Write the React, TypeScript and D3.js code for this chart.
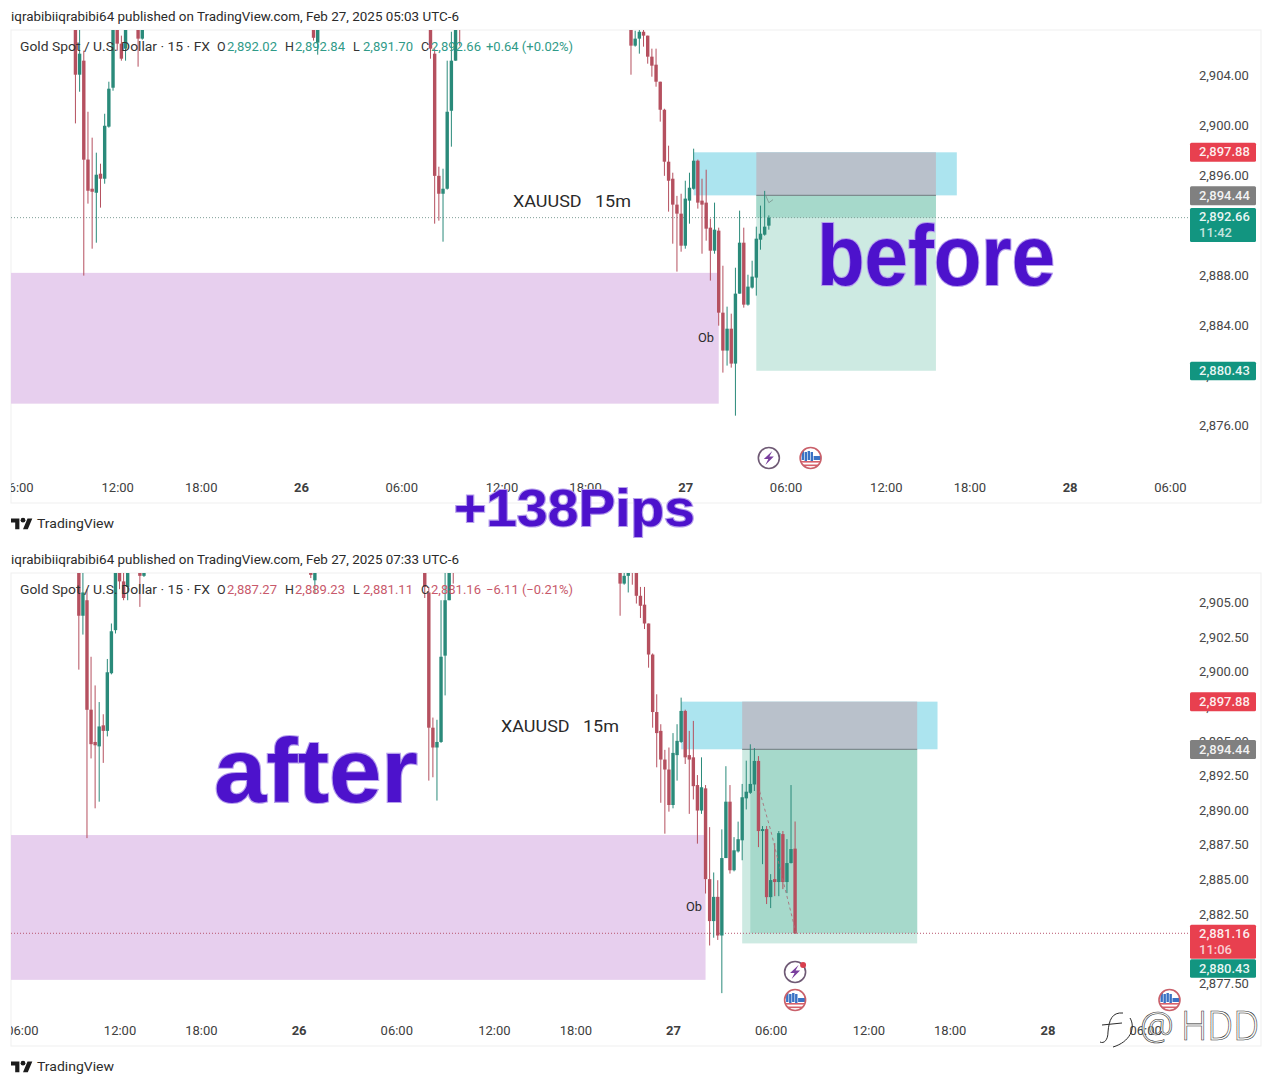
import { useEffect, useRef } from "react";
import * as d3 from "d3";

// [bar, open, high, low, close], bar 0 = Feb 27 00:00, one bar = 15 min
type Candle = [number, number, number, number, number];

const firstDip: Candle[] = [
  [-146, 2911, 2913, 2900.19, 2904.08],
  [-145, 2904.08, 2908.5, 2902.72, 2905.76],
  [-144, 2905.2, 2906.0, 2888.03, 2897.29],
  [-143, 2897.3, 2901.12, 2893.78, 2894.81],
  [-142, 2894.97, 2899.05, 2890.18, 2894.73],
  [-141, 2894.65, 2897.85, 2890.66, 2896.09],
  [-140, 2896.17, 2896.97, 2893.46, 2895.77],
  [-139, 2895.77, 2900.96, 2895.37, 2900.0],
  [-138, 2899.93, 2903.52, 2899.85, 2902.96],
  [-137, 2903.04, 2909, 2902.8, 2908.39],
  [-136, 2909, 2910, 2906.0, 2906.56],
  [-135, 2906.56, 2907.2, 2905.2, 2905.36],
  [-134, 2906.16, 2909.5, 2905.2, 2908.39],
  [-131, 2908.2, 2909, 2904.72, 2906.96],
  [-130, 2906.96, 2908.4, 2906.88, 2908.4],
  [-89, 2909, 2910, 2906.8, 2907.03],
  [-88, 2906.64, 2908.5, 2905.68, 2908.5],
];

const secondDip: Candle[] = [
  [-61, 2910, 2911, 2905.36, 2906.16],
  [-60, 2905.76, 2906.16, 2892.18, 2896.0],
  [-59, 2896.0, 2896.73, 2892.42, 2894.57],
  [-58, 2894.57, 2896.57, 2890.74, 2894.97],
  [-57, 2894.97, 2905.2, 2894.9, 2901.12],
  [-56, 2901.2, 2907.51, 2898.33, 2905.2],
  [-55, 2905.2, 2909, 2905.2, 2908.5],
  [-54, 2909, 2910, 2906.4, 2908],
];

const selloff: Candle[] = [
  [-13, 2908, 2909, 2904.08, 2906.4],
  [-12, 2906.4, 2907.59, 2906.32, 2906.96],
  [-11, 2906.96, 2908.5, 2905.76, 2907.51],
  [-10, 2907.51, 2909, 2906.32, 2907.2],
  [-9, 2907.2, 2907.2, 2904.96, 2905.52],
  [-8, 2905.52, 2906.16, 2903.92, 2904.8],
  [-7, 2904.88, 2906.16, 2903.12, 2903.52],
  [-6, 2903.52, 2903.52, 2900.33, 2901.28],
  [-5, 2901.28, 2901.36, 2896, 2897.13],
  [-4, 2897.13, 2898.41, 2893.14, 2895.61],
  [-3, 2895.77, 2896.25, 2890.58, 2893.7],
  [-2, 2893.7, 2894.4, 2888.35, 2892.98],
  [-1, 2892.98, 2894.57, 2889.94, 2890.42],
  [0, 2890.42, 2895.61, 2890.18, 2894.18],
  [1, 2894.02, 2896.25, 2892.18, 2895.05],
  [2, 2894.97, 2898.17, 2894.9, 2897.21],
  [3, 2897.21, 2897.3, 2893.38, 2893.86],
  [4, 2894.02, 2895.77, 2889.78, 2893.7],
  [5, 2893.86, 2896.49, 2890.82, 2891.78],
  [6, 2891.86, 2892.58, 2887.63, 2890.02],
  [7, 2890.02, 2893.86, 2889.78, 2891.7],
  [8, 2891.62, 2891.86, 2884.03, 2885.07],
  [9, 2885.07, 2888.82, 2880.28, 2882.04],
  [10, 2882.04, 2885.55, 2880.84, 2883.79],
  [11, 2883.79, 2884.99, 2880.68, 2881],
  [12, 2881, 2888.66, 2876.84, 2886.59],
  [13, 2886.59, 2893.22, 2886.59, 2890.66],
  [14, 2890.66, 2891.86, 2885.47, 2885.71],
  [15, 2885.71, 2888.1, 2885.63, 2887.15],
  [16, 2887.07, 2889.22, 2886.99, 2887.95],
  [17, 2887.87, 2891.94, 2886.43, 2890.98],
  [18, 2890.9, 2893.62, 2890.1, 2891.38],
  [19, 2891.3, 2894.8, 2891.22, 2891.94],
];

// the bar still forming when the first snapshot was taken
const formingBefore: Candle[] = [[20, 2892.02, 2892.84, 2891.7, 2892.66]];

const barsAfter: Candle[] = [
  [20, 2891.9, 2894.53, 2891.43, 2893.6],
  [21, 2893.6, 2893.95, 2887.38, 2888.54],
  [22, 2888.54, 2888.9, 2886.15, 2888.68],
  [23, 2888.68, 2888.9, 2883.27, 2883.77],
  [24, 2883.77, 2885.43, 2882.98, 2885],
  [25, 2885.07, 2887.67, 2883.84, 2884.86],
  [26, 2884.86, 2888.54, 2883.84, 2888.39],
  [27, 2888.32, 2888.54, 2884.35, 2884.86],
  [28, 2884.86, 2887.96, 2884.06, 2886.23],
  [29, 2886.23, 2891.86, 2886.2, 2887.24],
  [30, 2887.27, 2889.23, 2881.11, 2881.16],
];

const timeTickBars = [-160, -136, -116, -92, -68, -44, -24, 0, 24, 48, 68, 92, 116];
const timeTickLabels = ["06:00", "12:00", "18:00", "26", "06:00", "12:00", "18:00", "27", "06:00", "12:00", "18:00", "28", "06:00"];
const dayLabels = ["26", "27", "28"];

const priceTicksBefore = [2904, 2900, 2896, 2892, 2888, 2884, 2880, 2876];
const priceTicksAfter = [2905, 2902.5, 2900, 2897.5, 2895, 2892.5, 2890, 2887.5, 2885, 2882.5, 2880, 2877.5];

const stopPrice = 2897.88;
const entryPrice = 2894.44;
const targetPrice = 2880.43;
const obZone = { top: 2888.25, bottom: 2877.8, endBar: 8 };
const supplyZone = { startBar: 2, endBar: 65 };
const tradeBars = { start: 17, end: 60 };

const pathBefore: [number, number][] = [[19.3, 2894.4], [20, 2893.85], [21, 2894.1]];
const pathAfter: [number, number][] = [[21.3, 2891.4], [24, 2888.6], [30.3, 2881.1]];

const RED = "#b5505f";
const GREEN = "#2a8a7a";
const TAG_RED = "#e8404f";
const TAG_GREEN = "#129580";
const TAG_GREY = "#808080";
const PURPLE = "#4d12cc";
const FONT = "Roboto, sans-serif";

type PanelConfig = {
  top: number;
  bottom: number;
  xRange: [number, number];
  priceDomain: [number, number];
  priceRange: [number, number];
  priceTicks: number[];
  candles: Candle[];
  clipId: string;
  header: string;
  ohlc: string[];
  change: string;
  legendColor: string;
  lastColor: string;
  lastPrice: number;
  countdown: string;
  pnlStartBar: number;
  path: [number, number][];
  pathColor: string;
  pathDash: string;
  dotColor: string;
  lastTagOffset: number;
  tagTargetY: number;
};

const panelBefore: PanelConfig = {
  top: 30,
  bottom: 503,
  xRange: [685.3, 1069.6],
  priceDomain: [2904, 2876],
  priceRange: [75.7, 426.2],
  priceTicks: priceTicksBefore,
  candles: [...firstDip, ...secondDip, ...selloff, ...formingBefore],
  clipId: "plot-before",
  header: "iqrabibiiqrabibi64 published on TradingView.com, Feb 27, 2025 05:03 UTC-6",
  ohlc: ["2,892.02", "2,892.84", "2,891.70", "2,892.66"],
  change: "+0.64 (+0.02%)",
  legendColor: "#2f9a88",
  lastColor: TAG_GREEN,
  lastPrice: 2892.66,
  countdown: "11:42",
  pnlStartBar: 17,
  path: pathBefore,
  pathColor: "#7f9a94",
  pathDash: "none",
  dotColor: "#7f9f98",
  lastTagOffset: 7.3,
  tagTargetY: 371,
};

const panelAfter: PanelConfig = {
  top: 573,
  bottom: 1046,
  xRange: [673, 1047.4],
  priceDomain: [2905, 2877.5],
  priceRange: [603, 984],
  priceTicks: priceTicksAfter,
  candles: [...firstDip, ...secondDip, ...selloff, ...barsAfter],
  clipId: "plot-after",
  header: "iqrabibiiqrabibi64 published on TradingView.com, Feb 27, 2025 07:33 UTC-6",
  ohlc: ["2,887.27", "2,889.23", "2,881.11", "2,881.16"],
  change: "\u22126.11 (\u22120.21%)",
  legendColor: "#c8596b",
  lastColor: TAG_RED,
  lastPrice: 2881.16,
  countdown: "11:06",
  pnlStartBar: 19,
  path: pathAfter,
  pathColor: "#a8707a",
  pathDash: "3 3",
  dotColor: "#b8566e",
  lastTagOffset: 8.5,
  tagTargetY: 968.5,
};

type Sel = d3.Selection<any, unknown, null, undefined>;

function drawBoltIcon(g: Sel, cx: number, cy: number, withDot: boolean) {
  g.append("circle").attr("cx", cx).attr("cy", cy).attr("r", 10.5)
    .attr("fill", "#fff").attr("stroke", "#6f5a75").attr("stroke-width", 1.6);
  g.append("path")
    .attr("d", `M${cx + 3.5},${cy - 7} L${cx - 5},${cy + 1} L${cx - 0.5},${cy + 1} L${cx - 3.5},${cy + 7} L${cx + 5},${cy - 1.5} L${cx + 0.5},${cy - 1.5} Z`)
    .attr("fill", "#7a3f9e");
  if (withDot) g.append("circle").attr("cx", cx + 8).attr("cy", cy - 7).attr("r", 3).attr("fill", "#d8404f");
}

function drawFlagIcon(g: Sel, cx: number, cy: number, id: string) {
  g.append("clipPath").attr("id", id).append("circle").attr("cx", cx).attr("cy", cy).attr("r", 10.5);
  const inner = g.append("g").attr("clip-path", `url(#${id})`);
  inner.append("rect").attr("x", cx - 11).attr("y", cy - 11).attr("width", 22).attr("height", 22).attr("fill", "#fff");
  [-9, -6, -3, 0].forEach((dx, i) => {
    inner.append("rect").attr("x", cx + dx).attr("y", cy - 7 + i % 2).attr("width", 2.4).attr("height", 9).attr("fill", "#3a72c4");
  });
  inner.append("rect").attr("x", cx + 3).attr("y", cy - 2).attr("width", 8).attr("height", 4).attr("fill", "#3a72c4");
  inner.append("rect").attr("x", cx - 10).attr("y", cy + 3).attr("width", 20).attr("height", 1.6).attr("fill", "#d8606a");
  inner.append("rect").attr("x", cx - 8).attr("y", cy + 6.5).attr("width", 16).attr("height", 1.6).attr("fill", "#d8606a");
  g.append("circle").attr("cx", cx).attr("cy", cy).attr("r", 10.5)
    .attr("fill", "none").attr("stroke", "#c9606a").attr("stroke-width", 1.6);
}

function drawPanel(svg: Sel, cfg: PanelConfig) {
  const left = 11;
  const plotRight = 1190;
  const right = 1261;

  const x = d3.scaleLinear().domain([0, 92]).range(cfg.xRange);
  const y = d3.scaleLinear().domain(cfg.priceDomain).range(cfg.priceRange);

  const root = svg.append("g");

  root.append("text")
    .attr("x", 11).attr("y", cfg.top - 9.5)
    .attr("font-family", FONT).attr("font-size", 12).attr("fill", "#2a2a2a")
    .attr("textLength", 448).attr("lengthAdjust", "spacingAndGlyphs")
    .text(cfg.header);

  // panel frame
  root.append("rect")
    .attr("x", left).attr("y", cfg.top)
    .attr("width", right - left).attr("height", cfg.bottom - cfg.top)
    .attr("fill", "#fff").attr("stroke", "#efefef");

  root.append("clipPath").attr("id", cfg.clipId)
    .append("rect").attr("x", left).attr("y", cfg.top)
    .attr("width", plotRight - left).attr("height", cfg.bottom - cfg.top);

  const plot = root.append("g").attr("clip-path", `url(#${cfg.clipId})`);

  // order block
  plot.append("rect")
    .attr("x", left).attr("y", y(obZone.top))
    .attr("width", x(obZone.endBar) - left).attr("height", y(obZone.bottom) - y(obZone.top))
    .attr("fill", "#e7cfee");

  // cyan zone
  plot.append("rect")
    .attr("x", x(supplyZone.startBar)).attr("y", y(stopPrice))
    .attr("width", x(supplyZone.endBar) - x(supplyZone.startBar)).attr("height", y(entryPrice) - y(stopPrice))
    .attr("fill", "#ace4ef");

  // position tool
  const tx0 = x(tradeBars.start);
  const tw = x(tradeBars.end) - tx0;
  plot.append("rect").attr("x", tx0).attr("y", y(stopPrice)).attr("width", tw)
    .attr("height", y(entryPrice) - y(stopPrice)).attr("fill", "#b9c1cb");
  plot.append("rect").attr("x", tx0).attr("y", y(entryPrice)).attr("width", tw)
    .attr("height", y(targetPrice) - y(entryPrice)).attr("fill", "#cdeae2");
  plot.append("rect").attr("x", x(cfg.pnlStartBar)).attr("y", y(entryPrice))
    .attr("width", x(tradeBars.end) - x(cfg.pnlStartBar))
    .attr("height", y(cfg.lastPrice) - y(entryPrice)).attr("fill", "#a6d9cb");
  plot.append("line").attr("x1", tx0).attr("x2", tx0 + tw)
    .attr("y1", y(entryPrice)).attr("y2", y(entryPrice))
    .attr("stroke", "#7d8c8e").attr("stroke-width", 1.2);

  // last price line
  plot.append("line").attr("x1", left).attr("x2", plotRight)
    .attr("y1", y(cfg.lastPrice)).attr("y2", y(cfg.lastPrice))
    .attr("stroke", cfg.dotColor).attr("stroke-dasharray", "1 2");

  // candles
  const candleG = plot.append("g");
  const bodyW = 3.4;
  candleG.selectAll("line").data(cfg.candles).join("line")
    .attr("x1", (d) => x(d[0])).attr("x2", (d) => x(d[0]))
    .attr("y1", (d) => y(d[2])).attr("y2", (d) => y(d[3]))
    .attr("stroke", (d) => (d[4] >= d[1] ? GREEN : RED));
  candleG.selectAll("rect").data(cfg.candles).join("rect")
    .attr("x", (d) => x(d[0]) - bodyW / 2)
    .attr("y", (d) => y(Math.max(d[1], d[4])))
    .attr("width", bodyW)
    .attr("height", (d) => Math.max(1.5, Math.abs(y(d[1]) - y(d[4]))))
    .attr("fill", (d) => (d[4] >= d[1] ? GREEN : RED));

  // projected path
  const pathLine = d3.line<[number, number]>().x((d) => x(d[0])).y((d) => y(d[1]));
  plot.append("path").attr("d", pathLine(cfg.path))
    .attr("fill", "none").attr("stroke", cfg.pathColor).attr("stroke-width", 0.9)
    .attr("stroke-dasharray", cfg.pathDash);

  // price axis
  const priceAxis = d3.axisRight(y)
    .tickValues(cfg.priceTicks)
    .tickSize(0)
    .tickPadding(9)
    .tickFormat((d) => d3.format(",.2f")(d as number));
  const yAxisG = root.append("g").attr("transform", `translate(${plotRight},0)`).call(priceAxis);
  yAxisG.select(".domain").remove();
  yAxisG.selectAll("text").attr("dy", "0.27em")
    .attr("font-family", FONT).attr("font-size", 13).attr("fill", "#474747");

  // time axis
  root.append("clipPath").attr("id", `${cfg.clipId}-time`)
    .append("rect").attr("x", left).attr("y", cfg.bottom - 40).attr("width", right - left).attr("height", 40);
  const timeAxis = d3.axisBottom(x)
    .tickValues(timeTickBars)
    .tickSize(0)
    .tickPadding(0)
    .tickFormat((_, i) => timeTickLabels[i]);
  const xAxisG = root.append("g")
    .attr("clip-path", `url(#${cfg.clipId}-time)`)
    .append("g")
    .attr("transform", `translate(0,${cfg.bottom - 20})`)
    .call(timeAxis);
  xAxisG.select(".domain").remove();
  xAxisG.selectAll<SVGTextElement, number>("text")
    .attr("font-family", FONT).attr("font-size", 13).attr("fill", "#404040")
    .attr("font-weight", (_, i) => (dayLabels.includes(timeTickLabels[i]) ? 700 : 400));

  // legend row
  const legendY = cfg.top + 21;
  const legend = root.append("g").attr("font-family", FONT).attr("font-size", 12.5);
  const label = (tx: number, s: string, fill: string, width?: number) => {
    const t = legend.append("text").attr("x", tx).attr("y", legendY).attr("fill", fill).text(s);
    if (width) t.attr("textLength", width).attr("lengthAdjust", "spacingAndGlyphs");
  };
  label(20, "Gold Spot / U.S. Dollar \u00b7 15 \u00b7 FX", "#333", 190);
  ["O", "H", "L", "C"].forEach((k, i) => {
    const baseX = 217 + i * 68;
    label(baseX, k, "#333");
    label(baseX + 10, cfg.ohlc[i], cfg.legendColor, 50);
  });
  label(486, cfg.change, cfg.legendColor, 87);

  // price tags
  const tag = (cy: number, h: number, fill: string, lines: string[]) => {
    const yTop = cy - h / 2;
    root.append("rect").attr("x", plotRight).attr("y", yTop).attr("width", 66).attr("height", h)
      .attr("rx", 1.5).attr("fill", fill);
    lines.forEach((s, i) => {
      root.append("text")
        .attr("x", plotRight + 9).attr("y", yTop + 13.5 + i * 16)
        .attr("font-family", FONT).attr("font-size", 13).attr("font-weight", 500)
        .attr("fill", "#fff").attr("fill-opacity", i === 0 ? 0.92 : 0.75).text(s);
    });
  };
  const money = d3.format(",.2f");
  tag(y(stopPrice), 19, TAG_RED, [money(stopPrice)]);
  tag(y(entryPrice) + 0.3, 19, TAG_GREY, [money(entryPrice)]);
  tag(y(cfg.lastPrice) + cfg.lastTagOffset, 34, cfg.lastColor, [money(cfg.lastPrice), cfg.countdown]);
  tag(cfg.tagTargetY, 18.5, TAG_GREEN, [money(targetPrice)]);

  // TradingView mark
  const brand = root.append("g").attr("transform", `translate(11,${cfg.bottom + 13})`);
  brand.append("path")
    .attr("transform", "scale(0.6)")
    .attr("d", "M14 22H7V11H0V4h14v18zM28 22h-8l7.5-18h8L28 22z")
    .attr("fill", "#1c1c1c");
  brand.append("circle").attr("cx", 12).attr("cy", 4.2).attr("r", 2.4).attr("fill", "#1c1c1c");
  root.append("text").attr("x", 37).attr("y", cfg.bottom + 25)
    .attr("font-family", FONT).attr("font-size", 13.5).attr("fill", "#2b2b2b")
    .attr("textLength", 77).attr("lengthAdjust", "spacingAndGlyphs")
    .text("TradingView");

  return { x, y, root };
}

export default function App() {
  const svgRef = useRef<SVGSVGElement | null>(null);

  useEffect(() => {
    if (!svgRef.current) return;
    const svg = d3.select(svgRef.current) as unknown as Sel;
    svg.selectAll("*").remove();

    const before = drawPanel(svg, panelBefore);
    const after = drawPanel(svg, panelAfter);

    // annotations
    const note = (tx: number, ty: number, s: string, size: number, width: number) =>
      svg.append("text").attr("x", tx).attr("y", ty)
        .attr("font-family", FONT).attr("font-size", size).attr("fill", "#2a2a2a")
        .attr("xml:space", "preserve")
        .attr("textLength", width).attr("lengthAdjust", "spacingAndGlyphs")
        .text(s);
    note(513, 207, "XAUUSD   15m", 17, 118);
    note(501, 732, "XAUUSD   15m", 17, 118);
    note(698, 342, "Ob", 12, 16);
    note(686, 911, "Ob", 12, 16);

    // event markers
    const icons = svg.append("g");
    drawBoltIcon(icons, before.x(20), 458, false);
    drawFlagIcon(icons, before.x(30), 458, "flag-a");
    drawBoltIcon(icons, after.x(30), 972, true);
    drawFlagIcon(icons, after.x(30), 1000, "flag-b");
    drawFlagIcon(icons, after.x(122), 1000, "flag-c");

    // big overlay words
    const big = (tx: number, ty: number, s: string, size: number, width: number) =>
      svg.append("text").attr("x", tx).attr("y", ty)
        .attr("font-family", "'Liberation Sans', sans-serif").attr("font-size", size).attr("font-weight", 700)
        .attr("fill", PURPLE).attr("stroke", "#b6a0ec").attr("stroke-width", 2.2)
        .attr("paint-order", "stroke")
        .attr("textLength", width).attr("lengthAdjust", "spacingAndGlyphs")
        .text(s);
    big(817, 285, "before", 86, 238);
    big(214, 802, "after", 90, 204);
    big(454, 526, "+138Pips", 52, 241);

    // watermark
    const mark = svg.append("g").attr("opacity", 0.99)
      .attr("fill", "#fff").attr("stroke", "#2a2a2a").attr("stroke-width", 0.6);
    mark.append("path")
      .attr("d", "M1123,1013 C1112,1012 1109,1020 1108,1032 C1108,1040 1104,1044 1100,1042 M1102,1025 L1122,1023 M1130,1018 C1136,1028 1130,1042 1113,1047")
      .attr("fill", "none").attr("stroke-width", 1);
    mark.append("text").attr("x", 1140).attr("y", 1040).attr("fill-opacity", 0.6)
      .attr("font-family", "'Noto Sans', sans-serif").attr("font-size", 38).attr("font-weight", 300).text("@");
    mark.append("text").attr("x", 1181).attr("y", 1040)
      .attr("font-family", "'Noto Sans', sans-serif").attr("font-size", 40).attr("font-weight", 300)
      .attr("textLength", 78).attr("lengthAdjust", "spacingAndGlyphs").text("HDD");
  }, []);

  return (
    <svg
      ref={svgRef}
      width={1272}
      height={1084}
      viewBox="0 0 1272 1084"
      style={{ position: "absolute", left: 0, top: 0, background: "#fff", display: "block" }}
    />
  );
}
